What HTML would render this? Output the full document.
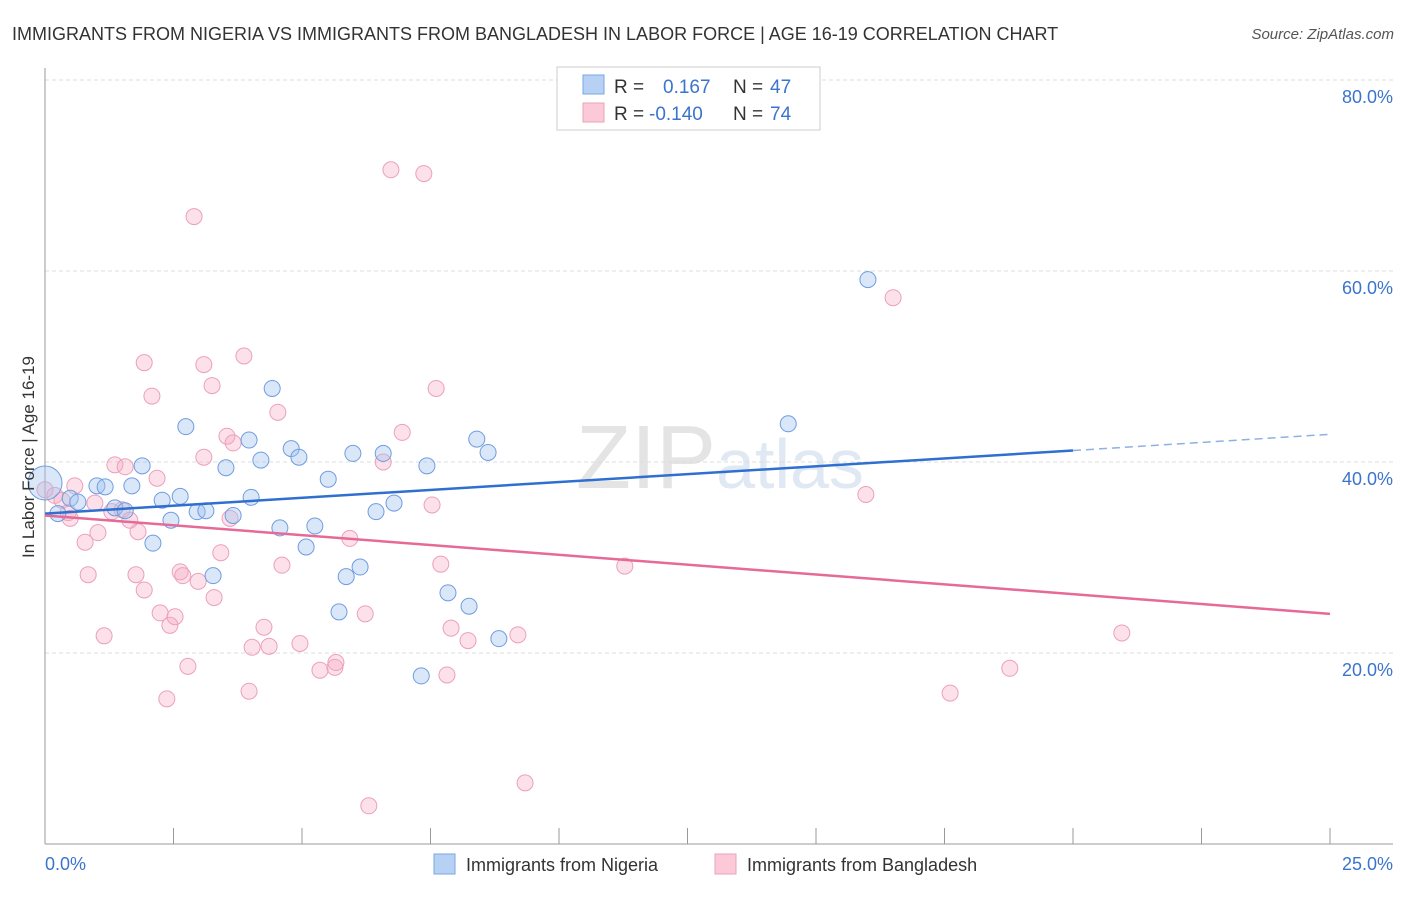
<!DOCTYPE html>
<html><head><meta charset="utf-8"><style>
body{margin:0;background:#fff;font-family:"Liberation Sans",sans-serif;}
svg text{font-family:"Liberation Sans",sans-serif;}
</style></head><body>
<svg id="chart" width="1406" height="892" xmlns="http://www.w3.org/2000/svg">
<text x="12" y="40" font-size="18" fill="#333">IMMIGRANTS FROM NIGERIA VS IMMIGRANTS FROM BANGLADESH IN LABOR FORCE | AGE 16-19 CORRELATION CHART</text>
<text x="1394" y="39" font-size="15" fill="#555" font-style="italic" text-anchor="end">Source: ZipAtlas.com</text>
<text x="720" y="488" font-size="90" text-anchor="middle" fill="#e4e4e4" font-family="Liberation Serif"><tspan>ZIP</tspan><tspan fill="#dfe8f3" font-family="Liberation Sans" font-size="70">atlas</tspan></text>
<g id="grid"></g>
<g id="axes"></g>
<g id="marks"></g>
<text transform="translate(34,457) rotate(-90)" font-size="17" fill="#333" text-anchor="middle">In Labor Force | Age 16-19</text>
<g>
<rect x="557" y="67" width="263" height="63" fill="#fff" stroke="#ccc"/>
<rect x="583" y="75" width="21" height="19" fill="#b7d1f5" stroke="#7aa6e3"/>
<text x="614" y="93" font-size="19" fill="#333">R = </text><text x="663" y="93" font-size="19" fill="#3b74cc">0.167</text>
<text x="733" y="93" font-size="19" fill="#333">N = </text><text x="770" y="93" font-size="19" fill="#3b74cc">47</text>
<rect x="583" y="103" width="21" height="19" fill="#fbc9d7" stroke="#eba3b8"/>
<text x="614" y="120" font-size="19" fill="#333">R = </text><text x="649" y="120" font-size="19" fill="#3b74cc">-0.140</text>
<text x="733" y="120" font-size="19" fill="#333">N = </text><text x="770" y="120" font-size="19" fill="#3b74cc">74</text>
</g>
<g>
<rect x="434" y="854" width="21" height="20" fill="#b7d1f5" stroke="#7aa6e3"/>
<text x="466" y="871" font-size="18" fill="#333">Immigrants from Nigeria</text>
<rect x="715" y="854" width="21" height="20" fill="#fbc9d7" stroke="#eba3b8"/>
<text x="747" y="871" font-size="18" fill="#333">Immigrants from Bangladesh</text>
</g>
</svg>
<script>
const yTicks=[20,40,60,80];
const yTickLabels=["20.0%","40.0%","60.0%","80.0%"];
const xTicks=[0,2.5,5,7.5,10,12.5,15,17.5,20,22.5,25];
const nigeriaX=[0,0.25,0.49,0.64,1.01,1.17,1.36,1.56,1.69,1.89,2.10,2.28,2.45,2.63,2.74,2.96,3.13,3.27,3.52,3.66,3.97,4.01,4.20,4.42,4.57,4.79,4.94,5.08,5.25,5.51,5.72,5.86,5.99,6.13,6.44,6.58,6.79,7.32,7.43,7.84,8.25,8.40,8.62,8.83,14.46,16.01];
const nigeriaY=[37.8,34.6,36.2,35.8,37.5,37.4,35.2,34.9,37.5,39.6,31.5,36.0,33.9,36.4,43.7,34.8,34.9,28.1,39.4,34.4,42.3,36.3,40.2,47.7,33.1,41.4,40.5,31.1,33.3,38.2,24.3,28.0,40.9,29.0,34.8,40.9,35.7,17.6,39.6,26.3,24.9,42.4,41.0,21.5,44.0,59.1];
const bangX=[0,0.19,0.33,0.45,0.58,0.49,0.78,0.84,0.97,1.03,1.15,1.30,1.36,1.50,1.56,1.65,1.77,1.81,1.93,1.93,2.08,2.18,2.24,2.37,2.43,2.53,2.63,2.68,2.78,2.90,2.98,3.09,3.09,3.25,3.29,3.42,3.54,3.60,3.66,3.87,3.97,4.03,4.26,4.36,4.53,4.61,4.96,5.35,5.64,5.66,5.93,6.23,6.30,6.58,6.73,6.95,7.37,7.53,7.61,7.70,7.82,7.90,8.23,9.20,9.34,11.28,15.97,16.50,17.61,18.77,20.95];
const bangY=[37.1,36.5,36.0,34.7,37.5,34.1,31.6,28.2,35.7,32.6,21.8,34.8,39.7,35.0,39.5,33.9,28.2,32.7,26.6,50.4,46.9,38.3,24.2,15.2,22.9,23.8,28.5,28.1,18.6,65.7,27.5,50.2,40.5,48.0,25.8,30.5,42.7,34.1,42.0,51.1,16.0,20.6,22.7,20.7,45.2,29.2,21.0,18.2,18.5,19.0,32.0,24.1,4.0,40.0,70.6,43.1,70.2,35.5,47.7,29.3,17.7,22.6,21.3,21.9,6.4,29.1,36.6,57.2,15.8,18.4,22.1];
const nigeriaTrend=[34.6,41.2,42.9]; // at x=0, 20, 25
const bangTrend=[34.4,24.1]; // at x=0, 25
const NS="http://www.w3.org/2000/svg";
const sx=v=>45+v*(1285/25);
const sy=v=>844-v*(191/20);
function mk(tag,attrs,parent){const e=document.createElementNS(NS,tag);for(const k in attrs)e.setAttribute(k,attrs[k]);document.getElementById(parent).appendChild(e);return e;}
yTicks.forEach((t,i)=>{
 const l=mk('line',{x1:45,x2:1393,y1:sy(t),y2:sy(t),stroke:'#ddd','stroke-dasharray':'4,3'},'grid');
 
 
 const tx=mk('text',{x:1393,y:sy(t)+23,'font-size':18,fill:'#3b74cc','text-anchor':'end'},'axes');
 tx.textContent=yTickLabels[i];
 
 
});
const ya=mk('line',{x1:45,x2:45,y1:68,y2:844,stroke:'#999'},'axes');


const xa=mk('line',{x1:45,x2:1393,y1:844,y2:844,stroke:'#999'},'axes');


xTicks.forEach(t=>{const l=mk('line',{x1:sx(t),x2:sx(t),y1:828,y2:844,stroke:'#999'},'axes');
 
 });
[[0,"0.0%",'start',45],[25,"25.0%",'end',1393]].forEach(a=>{const tx=mk('text',{x:a[3],y:870,'font-size':18,fill:'#3b74cc','text-anchor':a[2]},'axes');tx.textContent=a[1];
 
 });
bangX.forEach((x,i)=>{const c=mk('circle',{cx:sx(x),cy:sy(bangY[i]),r:8,fill:'rgba(246,170,196,0.35)',stroke:'#eca0b9','stroke-width':1},'marks');
 
 });
nigeriaX.forEach((x,i)=>{const c=mk('circle',{cx:sx(x),cy:sy(nigeriaY[i]),r:i===0?17:8,fill:'rgba(160,195,240,0.4)',stroke:'#6f9de0','stroke-width':1},'marks');
 
 });
const bl=mk('line',{x1:sx(0),y1:sy(nigeriaTrend[0]),x2:sx(20),y2:sy(nigeriaTrend[1]),stroke:'#2f6fd0','stroke-width':2.5},'marks');


const bd=mk('line',{x1:sx(20),y1:sy(nigeriaTrend[1]),x2:sx(25),y2:sy(nigeriaTrend[2]),stroke:'#8fb0e0','stroke-width':1.5,'stroke-dasharray':'8,5'},'marks');


const pl=mk('line',{x1:sx(0),y1:sy(bangTrend[0]),x2:sx(25),y2:sy(bangTrend[1]),stroke:'#e56a97','stroke-width':2.5},'marks');


</script>
</body></html>
